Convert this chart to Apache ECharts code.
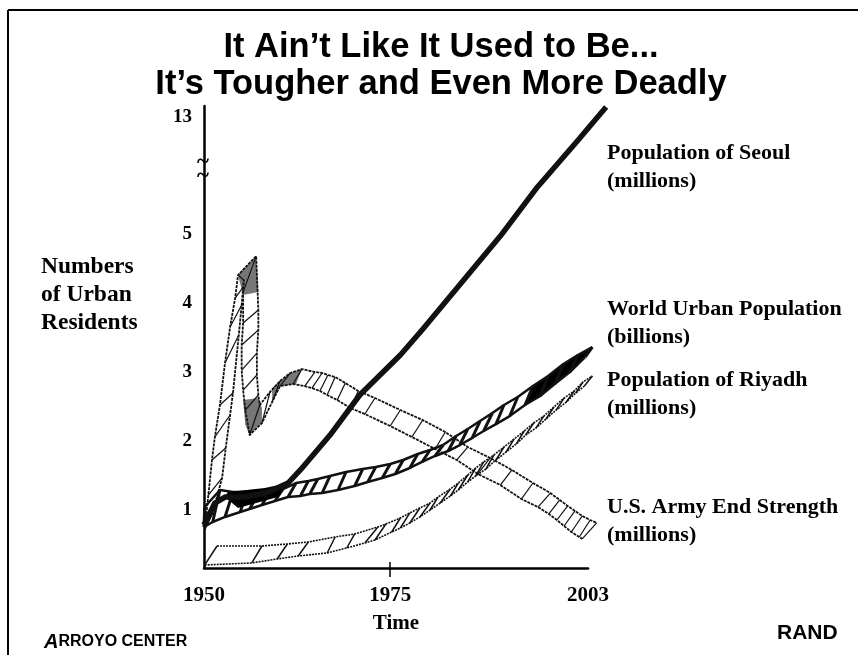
<!DOCTYPE html>
<html>
<head>
<meta charset="utf-8">
<style>html,body{margin:0;padding:0;background:#fff}#char1{width:858px;height:655px}</style>
<script src="https://cdn.jsdelivr.net/npm/echarts@6/dist/echarts.min.js"></script>
</head>
<body>
<div id="char1"></div>
<script>
// the original slide is hand drawn: its 1975 tick sits a little right of true scale
const xTickValues = [1950, 1975.7, 2003];
const xTickLabels = ['1950', '1975', '2003'];
const yTickValues = [1, 2, 3, 4, 5, 13];

const seoul = [[1950, 0.783], [1951.5, 1.1], [1952.9, 1.188], [1955.7, 1.188], [1958.9, 1.26], [1961.6, 1.391],
    [1963.3, 1.58], [1967.4, 2.087], [1971.5, 2.667], [1977.1, 3.246], [1980.1, 3.609], [1990.9, 4.971],
    [1996.0, 5.68], [2001.5, 12.65], [2005.5, 13.145]];
const seoulBlob = [[1953.3, 1.261], [1958.4, 1.319], [1961.6, 1.391], [1960.2, 1.188], [1954.7, 1.029], [1952.9, 1.188]];

const worldUpper = [[1950.1, 1.043], [1952.2, 1.29], [1954.0, 1.261], [1955.9, 1.261], [1957.5, 1.246], [1959.1, 1.275],
    [1960.9, 1.304], [1962.7, 1.391], [1964.4, 1.42], [1965.7, 1.449], [1967.4, 1.493], [1969.6, 1.551], [1971.9, 1.594],
    [1973.7, 1.623], [1975.7, 1.667], [1977.5, 1.725], [1979.5, 1.812], [1981.2, 1.87], [1983.0, 1.942], [1984.8, 2.072],
    [1986.4, 2.174], [1988.1, 2.29], [1989.8, 2.406], [1991.4, 2.522], [1993.3, 2.638], [1995.4, 2.797], [1997.5, 2.942],
    [1999.6, 3.116], [2001.6, 3.246], [2003.6, 3.362]];
const worldLower = [[1950, 0.754], [1951.2, 0.826], [1952.9, 0.899], [1955.0, 0.971], [1956.3, 1.014], [1958.0, 1.072],
    [1959.8, 1.13], [1961.6, 1.188], [1963.3, 1.203], [1964.6, 1.232], [1966.3, 1.246], [1968.5, 1.29], [1970.8, 1.348],
    [1972.6, 1.406], [1974.6, 1.464], [1976.4, 1.522], [1978.4, 1.609], [1980.1, 1.696], [1981.9, 1.783], [1983.7, 1.855],
    [1985.3, 1.942], [1987.0, 2.043], [1988.6, 2.145], [1990.3, 2.246], [1992.2, 2.362], [1994.3, 2.522], [1996.4, 2.652],
    [1998.4, 2.826], [2000.5, 3.0], [2002.6, 3.217]];
const worldSolidEnd = [[1995.4, 2.797], [1997.5, 2.942], [1999.6, 3.116], [2001.6, 3.246], [2003.6, 3.362],
    [2002.6, 3.217], [2000.5, 3.0], [1998.4, 2.826], [1996.4, 2.652], [1994.3, 2.522]];

const riyadhUpper = [[1951.8, 0.478], [1958.0, 0.478], [1961.5, 0.507], [1964.4, 0.536], [1968.1, 0.609], [1970.8, 0.652],
    [1974.0, 0.754], [1975.1, 0.797], [1977.1, 0.884], [1978.4, 0.957], [1979.8, 1.029], [1981.2, 1.101], [1982.3, 1.188],
    [1984.0, 1.304], [1985.1, 1.391], [1986.4, 1.507], [1987.5, 1.609], [1988.6, 1.696], [1990.0, 1.797], [1991.4, 1.913],
    [1992.8, 2.029], [1994.2, 2.145], [1995.5, 2.261], [1996.9, 2.362], [1998.3, 2.493], [1999.7, 2.623], [2001.1, 2.725],
    [2002.3, 2.855], [2003.6, 2.942]];
const riyadhLower = [[1950.1, 0.203], [1956.6, 0.232], [1960.1, 0.29], [1963.0, 0.333], [1967.0, 0.377], [1969.7, 0.449],
    [1972.2, 0.522], [1973.6, 0.565], [1975.9, 0.681], [1977.1, 0.739], [1978.4, 0.812], [1979.8, 0.899], [1981.2, 1.0],
    [1982.6, 1.101], [1984.0, 1.203], [1985.1, 1.29], [1986.4, 1.406], [1987.5, 1.493], [1988.9, 1.594], [1990.3, 1.725],
    [1991.7, 1.841], [1993.1, 1.957], [1994.4, 2.087], [1995.8, 2.188], [1997.2, 2.319], [1998.6, 2.449], [2000.0, 2.565],
    [2001.3, 2.696], [2002.5, 2.797]];

const armyOuter = [[1950.1, 0.71], [1950.6, 1.217], [1951.1, 1.725], [1951.5, 2.058], [1952.2, 2.522], [1952.9, 3.13],
    [1953.6, 3.652], [1954.3, 4.072], [1954.7, 4.406], [1957.2, 4.681], [1957.5, 3.899], [1957.5, 3.609], [1957.3, 3.275],
    [1957.3, 2.957], [1957.5, 2.667], [1957.7, 2.522], [1959.1, 2.71], [1960.5, 2.87], [1961.9, 2.986], [1963.5, 3.043],
    [1965.3, 3.0], [1966.3, 2.986], [1967.1, 2.957], [1968.1, 2.928], [1969.5, 2.841], [1971.3, 2.725], [1973.6, 2.623],
    [1977.1, 2.449], [1980.2, 2.304], [1983.3, 2.13], [1986.4, 1.913], [1989.5, 1.754], [1992.5, 1.58], [1995.4, 1.391],
    [1997.8, 1.246], [1999.1, 1.145], [2000.2, 1.058], [2001.2, 0.986], [2002.2, 0.913], [2003.3, 0.855], [2004.2, 0.812]];
const armyInner = [[1951.1, 0.928], [1952.5, 1.464], [1953.0, 1.899], [1953.6, 2.377], [1954.0, 2.696], [1954.8, 3.536],
    [1955.2, 3.971], [1955.4, 4.232], [1955.5, 4.333], [1955.4, 4.159], [1955.4, 3.71], [1955.2, 3.391], [1955.2, 3.029],
    [1955.4, 2.739], [1955.7, 2.449], [1956.3, 2.087], [1958.0, 2.261], [1959.4, 2.565], [1960.5, 2.797], [1962.3, 2.826],
    [1963.9, 2.797], [1964.9, 2.768], [1966.0, 2.725], [1967.0, 2.667], [1968.4, 2.594], [1970.2, 2.478], [1972.2, 2.391],
    [1975.7, 2.217], [1978.7, 2.058], [1981.9, 1.884], [1984.9, 1.725], [1987.8, 1.522], [1990.9, 1.362], [1993.8, 1.159],
    [1996.1, 1.043], [1997.6, 0.942], [1998.7, 0.855], [1999.7, 0.768], [2000.7, 0.681], [2001.8, 0.609], [2002.2, 0.58]];
const armyPeakShade = [[1954.7, 4.406], [1957.2, 4.681], [1957.5, 4.159], [1955.4, 4.116]];
const armyTroughShade = [[1955.4, 2.594], [1957.5, 2.623], [1958.0, 2.478], [1958.0, 2.275], [1956.3, 2.087], [1955.7, 2.232]];
const armyBumpShade = [[1959.4, 2.768], [1961.9, 2.986], [1963.5, 3.043], [1962.7, 2.826], [1960.5, 2.797], [1959.4, 2.565]];

// custom polyline: a line series gets cut just past the grid, and these run beyond the axis end
function edge(points, width, dash) {
    return {
        type: 'custom', data: [0], clip: false, silent: true,
        renderItem: function(params, api) {
            return {
                type: 'polyline',
                shape: { points: points.map(function(p) { return api.coord(p); }) },
                style: { stroke: '#111', fill: 'none', lineWidth: width, lineDash: dash, lineJoin: 'round' }
            };
        }
    };
}

// one crossbar for each pair of points on the two edges of a ribbon
function hatch(a, b, width) {
    var pairs = [];
    for (var i = 0; i < a.length; i++) {
        pairs.push([a[i][0], a[i][1], b[i][0], b[i][1]]);
    }
    return {
        type: 'custom', data: pairs, clip: false, silent: true,
        renderItem: function(params, api) {
            var p1 = api.coord([api.value(0), api.value(1)]);
            var p2 = api.coord([api.value(2), api.value(3)]);
            return {
                type: 'line',
                shape: { x1: p1[0], y1: p1[1], x2: p2[0], y2: p2[1] },
                style: { stroke: '#111', lineWidth: width }
            };
        }
    };
}

function shade(points, color) {
    return {
        type: 'custom', data: [0], clip: false, silent: true,
        renderItem: function(params, api) {
            return {
                type: 'polygon',
                shape: { points: points.map(function(p) { return api.coord(p); }) },
                style: { fill: color }
            };
        }
    };
}

function label(text, x, y, size) {
    return {
        type: 'text', x: x, y: y,
        style: { text: text, fill: '#000', font: 'bold ' + size + 'px "Liberation Serif"', textVerticalAlign: 'middle' }
    };
}

var myChart = echarts.init(document.getElementById('char1'));

var option = {
    animation: false,
    backgroundColor: '#fff',
    title: {
        text: 'It Ain\u2019t Like It Used to Be...\nIt\u2019s Tougher and Even More Deadly',
        left: 436, top: 24, textAlign: 'center',
        textStyle: { color: '#000', fontFamily: 'Liberation Sans', fontWeight: 'bold', fontSize: 34.5, lineHeight: 37 }
    },
    grid: { left: 204, right: 270, top: 106, bottom: 87 },
    xAxis: [{
        type: 'value', min: 1950, max: 2003,
        name: 'Time', nameLocation: 'middle', nameGap: 45,
        nameTextStyle: { color: '#000', fontFamily: 'Liberation Serif', fontWeight: 'bold', fontSize: 21 },
        splitLine: { show: false },
        axisLine: { onZero: false, lineStyle: { color: '#000', width: 2.5 } },
        axisTick: { length: 9, lineStyle: { color: '#000', width: 1.5 }, customValues: [xTickValues[1]] },
        axisLabel: {
            color: '#000', fontFamily: 'Liberation Serif', fontWeight: 'bold', fontSize: 21, margin: 17,
            customValues: xTickValues,
            formatter: function(v) { return xTickLabels[xTickValues.indexOf(v)]; }
        }
    }, {
        type: 'value', min: 1950, max: 2003, position: 'bottom',
        splitLine: { show: false },
        axisLine: { show: false },
        axisLabel: { show: false },
        axisTick: { inside: true, length: 6, lineStyle: { color: '#000', width: 1.5 }, customValues: [xTickValues[1]] }
    }],
    yAxis: [{
        type: 'value', min: 0.159, max: 13.16,
        // gap is given in value units here: 46px at the 69px-per-unit scale of the lower part
        breaks: [{ start: 5.68, end: 12.65, gap: 0.667 }],
        breakArea: { show: false },
        splitLine: { show: false },
        axisLine: { onZero: false, breakLine: false, lineStyle: { color: '#000', width: 2.5 } },
        axisTick: { show: false },
        axisLabel: {
            color: '#000', fontFamily: 'Liberation Serif', fontWeight: 'bold', fontSize: 19, margin: 12,
            customValues: yTickValues,
            formatter: function(v) { return String(v); }
        }
    }],
    graphic: [
        { type: 'line', shape: { x1: 8, y1: 10, x2: 858, y2: 10 }, style: { stroke: '#000', lineWidth: 2 } },
        { type: 'line', shape: { x1: 8, y1: 10, x2: 8, y2: 655 }, style: { stroke: '#000', lineWidth: 2 } },
        { type: 'text', x: 203, y: 162, style: { text: '~', fill: '#000', font: 'bold 23px "Liberation Serif"', textAlign: 'center', textVerticalAlign: 'middle' } },
        { type: 'text', x: 203, y: 176, style: { text: '~', fill: '#000', font: 'bold 23px "Liberation Serif"', textAlign: 'center', textVerticalAlign: 'middle' } },
        label('Numbers', 41, 267, 23.5),
        label('of Urban', 41, 295, 23.5),
        label('Residents', 41, 323, 23.5),
        label('Population of Seoul', 607, 153, 22),
        label('(millions)', 607, 181, 22),
        label('World Urban Population', 607, 309, 22),
        label('(billions)', 607, 337, 22),
        label('Population of Riyadh', 607, 380, 22),
        label('(millions)', 607, 408, 22),
        label('U.S. Army End Strength', 607, 507, 22),
        label('(millions)', 607, 535, 22),
        {
            type: 'text', x: 44, y: 642,
            style: {
                text: '{a|A}{b|RROYO CENTER}', fill: '#000', textVerticalAlign: 'middle',
                rich: {
                    a: { font: 'italic bold 20px "Liberation Sans"', fill: '#000' },
                    b: { font: 'bold 16px "Liberation Sans"', fill: '#000' }
                }
            }
        },
        { type: 'text', x: 777, y: 633, style: { text: 'RAND', fill: '#000', font: 'bold 21px "Liberation Sans"', textVerticalAlign: 'middle' } }
    ],
    series: [
        shade(armyPeakShade, '#777'),
        shade(armyTroughShade, '#777'),
        shade(armyBumpShade, '#777'),
        hatch(armyOuter, armyInner, 1.2),
        edge(armyOuter, 1.8, [3, 1]),
        edge(armyInner, 1.8, [3, 1]),
        hatch(riyadhUpper, riyadhLower, 1.5),
        edge(riyadhUpper, 1.6, [2, 1]),
        edge(riyadhLower, 1.6, [2, 1]),
        shade(worldSolidEnd, '#000'),
        hatch(worldUpper, worldLower, 3),
        edge(worldUpper, 2.5, null),
        edge(worldLower, 2.5, null),
        shade(seoulBlob, '#000'),
        edge(seoul, 5.5, null)
    ]
};

myChart.setOption(option);
window.addEventListener('resize', function() { myChart.resize(); });
</script>
</body>
</html>
